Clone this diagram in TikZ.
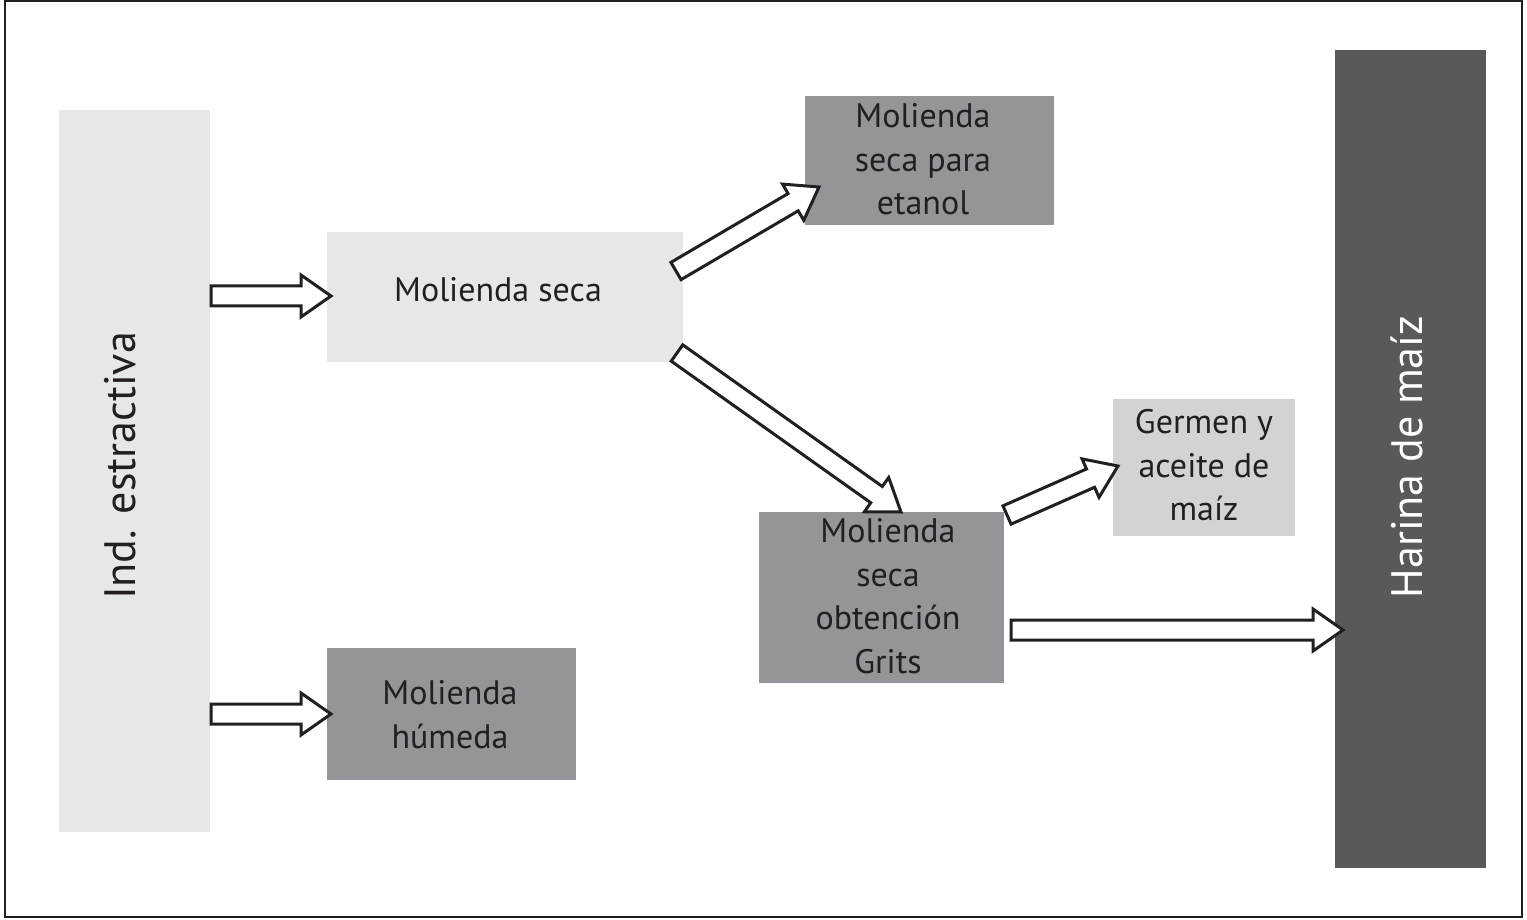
\documentclass[tikz,border=0pt]{standalone}
\usepackage{fontspec}
\setmainfont{PT Sans}
\usetikzlibrary{calc}
\definecolor{lightbox}{HTML}{E6E7E8}
\definecolor{midbox}{HTML}{939598}
\definecolor{germbox}{HTML}{D1D3D4}
\definecolor{darkbox}{HTML}{58595B}
\definecolor{ink}{HTML}{231F20}
\newcommand\blockarrow[2]{%
  \draw[barrow] let \p1=(#1), \p2=(#2),
    \n1={atan2(\y2-\y1,\x2-\x1)},
    \n2={veclen(\x2-\x1,\y2-\y1)} in
    ($(\p1)+(\n1+90:10pt)$)
    -- ($(\p1)+(\n1:{(\n2-30)*1pt})+(\n1+90:10pt)$)
    -- ($(\p1)+(\n1:{(\n2-30)*1pt})+(\n1+90:21pt)$)
    -- (\p2)
    -- ($(\p1)+(\n1:{(\n2-30)*1pt})+(\n1-90:21pt)$)
    -- ($(\p1)+(\n1:{(\n2-30)*1pt})+(\n1-90:10pt)$)
    -- ($(\p1)+(\n1-90:10pt)$) -- cycle;}
\begin{document}
\begin{tikzpicture}[x=1pt,y=-1pt,
  box/.style={draw=none, inner sep=0pt, outer sep=0pt},
  txt/.style={inner sep=0pt, text=ink, align=center, font=\fontsize{34}{43.5}\selectfont},
  bigtxt/.style={inner sep=0pt, font=\fontsize{44}{50}\selectfont, rotate=90},
  barrow/.style={draw=ink, fill=white, line width=3pt, line join=miter}]
\useasboundingbox (0,0) rectangle (1527,920);
\draw[ink, line width=2pt] (5,1) rectangle (1522,917);
% boxes
\node[box, fill=lightbox, minimum width=151, minimum height=722] (ind) at (134.5,471) {};
\node[box, fill=lightbox, minimum width=356, minimum height=130] (ms) at (505,297) {};
\node[box, fill=midbox, minimum width=249, minimum height=129] (et) at (929.5,160.5) {};
\node[box, fill=germbox, minimum width=182, minimum height=137] (germ) at (1204,467.5) {};
\node[box, fill=midbox, minimum width=245, minimum height=171] (grits) at (881.5,597.5) {};
\node[box, fill=midbox, minimum width=249, minimum height=132] (hum) at (451.5,714) {};
\node[box, fill=darkbox, minimum width=151, minimum height=818] (har) at (1410.5,459) {};
% texts
\node[bigtxt, text=ink] (indt) at (120,466) {Ind. estractiva};
\node[bigtxt, text=white] (hart) at (1407,457) {Harina de maíz};
\node[txt] (mst) at (498,290) {Molienda seca};
\node[txt] (ett) at (923,159.5) {Molienda\\seca para\\etanol};
\node[txt] (germt) at (1204,465.5) {Germen y\\aceite de\\maíz};
\node[txt] (gritst) at (888,596) {Molienda\\seca\\obtención\\Grits};
\node[txt] (humt) at (450,714.5) {Molienda\\húmeda};
% arrow end points
\coordinate (a1s) at ($(ind.east)+(1,-175)$);
\coordinate (a1e) at ($(ms.west)+(4,-1)$);
\coordinate (a2s) at ($(ind.east)+(1,243)$);
\coordinate (a2e) at ($(hum.west)+(4,0)$);
\coordinate (a3s) at ($(ms.east)+(-7,-26)$);
\coordinate (a3e) at ($(et.south west)+(14,-38)$);
\coordinate (a4s) at ($(ms.east)+(-6,56)$);
\coordinate (a4e) at ($(grits.north)+(19.5,0)$);
\coordinate (a5s) at ($(grits.north east)+(3,3)$);
\coordinate (a5e) at ($(germ.west)+(5,-1.5)$);
\coordinate (a6s) at ($(grits.east)+(7,32.5)$);
\coordinate (a6e) at ($(har.west)+(8,171)$);
\blockarrow{a1s}{a1e}
\blockarrow{a2s}{a2e}
\blockarrow{a3s}{a3e}
\blockarrow{a4s}{a4e}
\blockarrow{a5s}{a5e}
\blockarrow{a6s}{a6e}
\end{tikzpicture}
\end{document}
